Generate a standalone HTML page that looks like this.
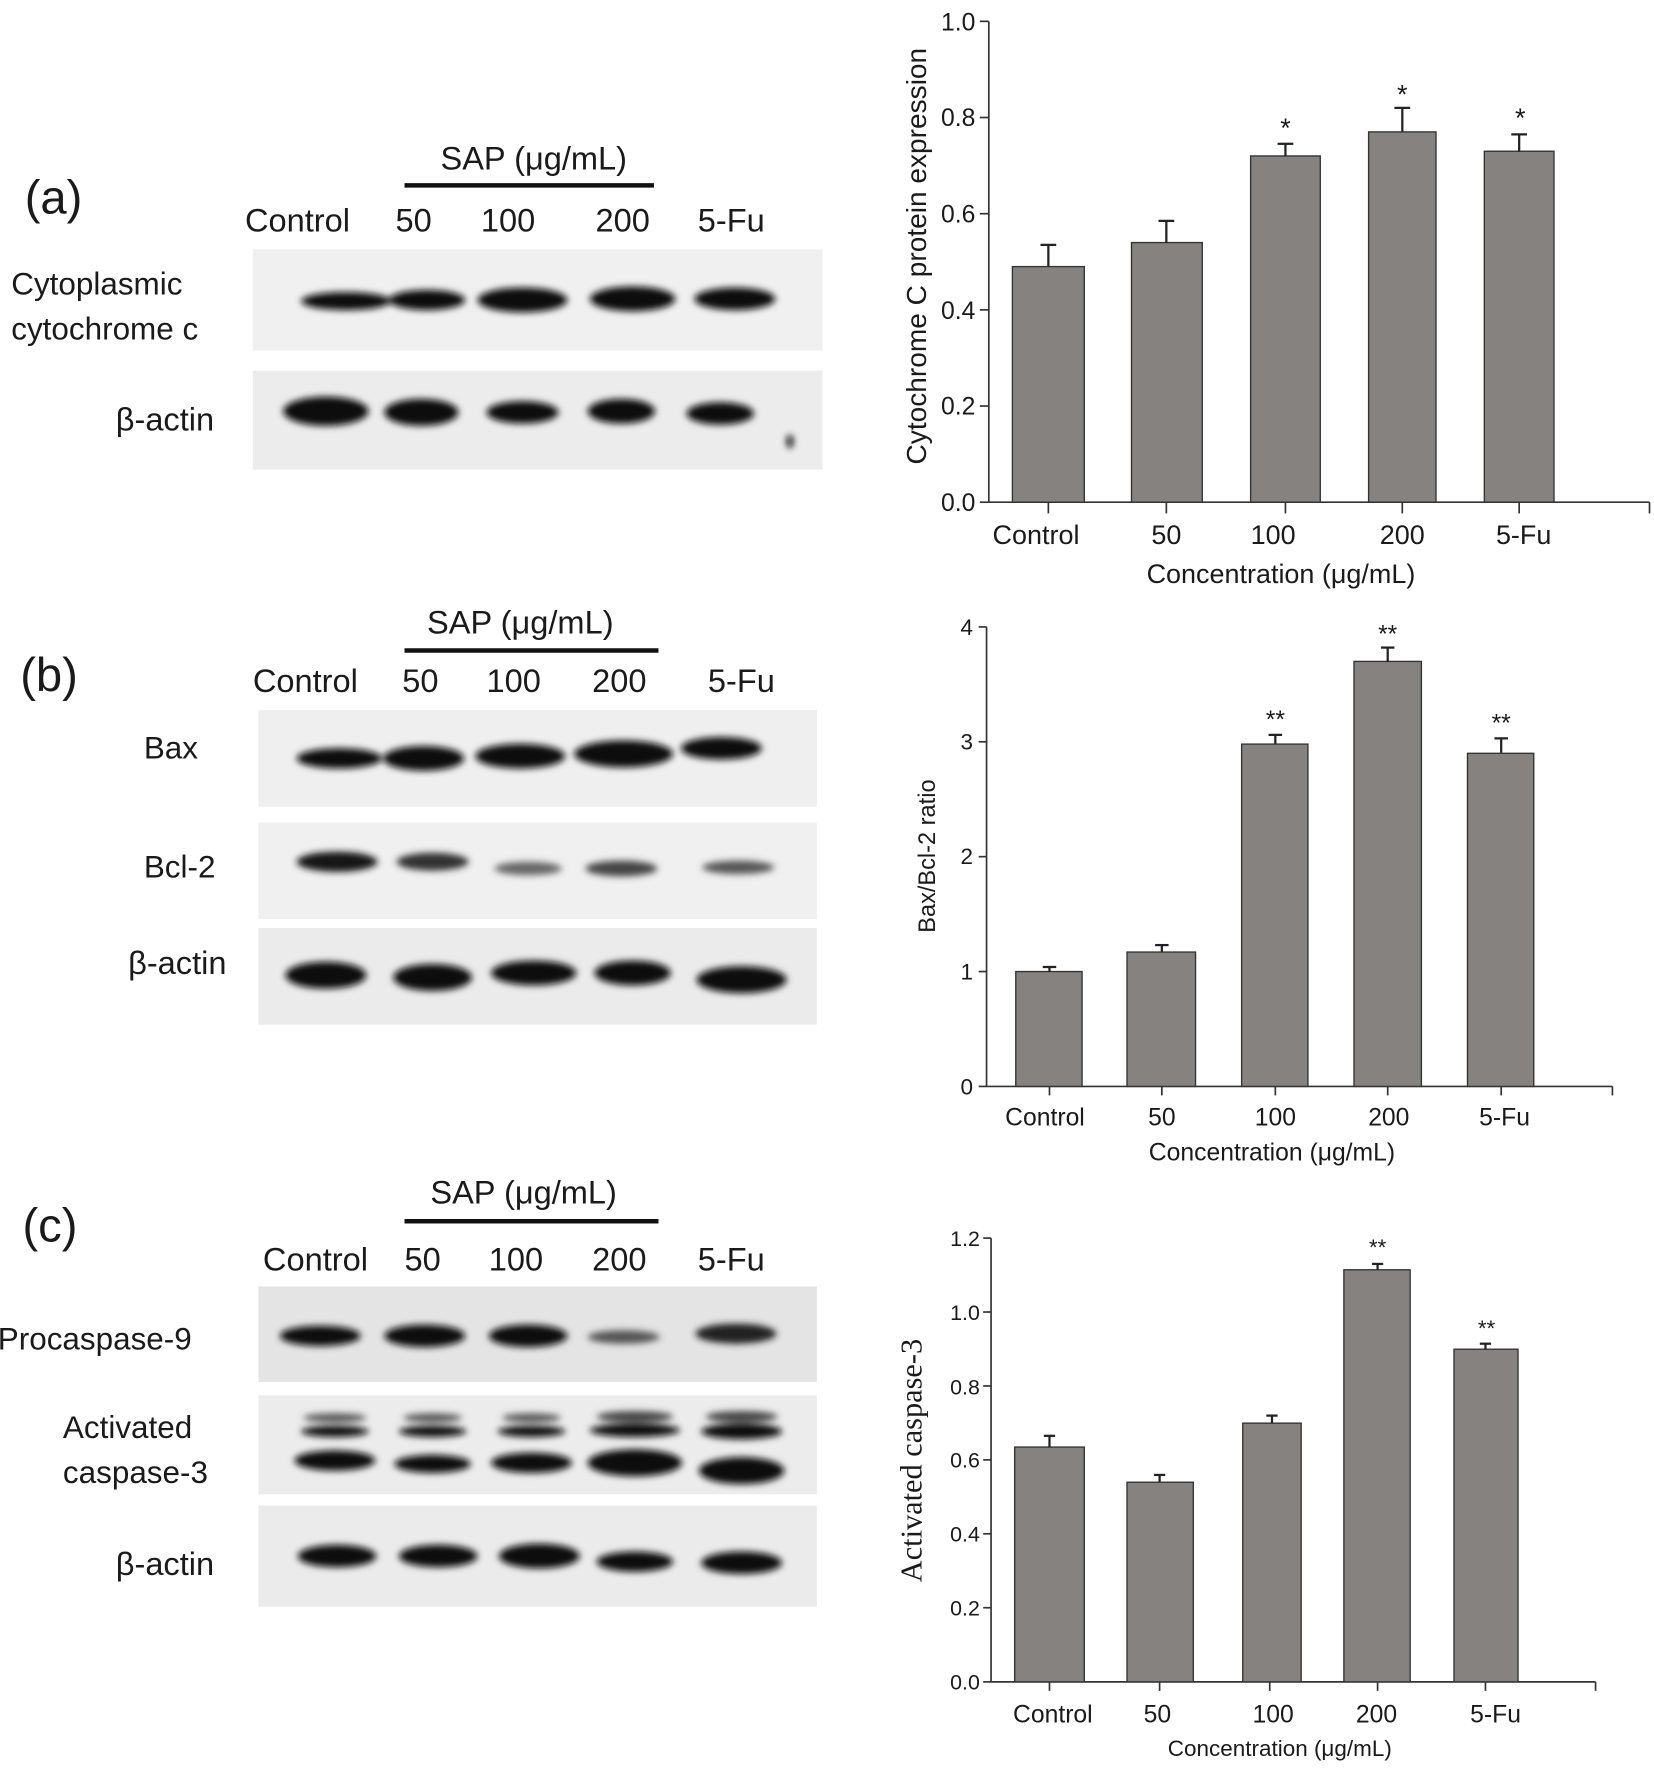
<!DOCTYPE html>
<html><head><meta charset="utf-8"><style>
html,body{margin:0;padding:0;background:#fff}
svg{display:block}
text{font-family:"Liberation Sans",sans-serif;fill:#1a1a1a}
</style></head><body>
<svg width="1654" height="1774" viewBox="0 0 1472 1579" preserveAspectRatio="none" xmlns="http://www.w3.org/2000/svg">
<defs>
<filter id="bl" x="-20%" y="-50%" width="140%" height="200%"><feGaussianBlur stdDeviation="3"/></filter>
<filter id="bl2" x="-20%" y="-50%" width="140%" height="200%"><feGaussianBlur stdDeviation="5"/></filter>
</defs>

<!-- ===== Panel (a) blots ===== -->
<text x="22" y="190" font-size="42">(a)</text>
<text x="392" y="151" font-size="29">SAP (μg/mL)</text>
<rect x="360" y="163" width="222" height="4" fill="#111"/>
<text x="218" y="206" font-size="29">Control</text>
<text x="352" y="206" font-size="29">50</text>
<text x="428" y="206" font-size="29">100</text>
<text x="530" y="206" font-size="29">200</text>
<text x="621" y="206" font-size="29">5-Fu</text>
<text x="10" y="262" font-size="28">Cytoplasmic</text>
<text x="10" y="302" font-size="28">cytochrome  c</text>
<text x="103" y="383" font-size="29">β-actin</text>
<rect x="225" y="222" width="507" height="90" fill="#f0f0f0"/>
<g filter="url(#bl)" fill="#111">
<ellipse cx="308" cy="268" rx="40" ry="8"/>
<ellipse cx="380" cy="267" rx="34" ry="9"/>
<ellipse cx="465" cy="267" rx="40" ry="11"/>
<ellipse cx="563" cy="266" rx="38" ry="11"/>
<ellipse cx="654" cy="266" rx="36" ry="10"/>
</g>
<rect x="225" y="330" width="507" height="88" fill="#ececec"/>
<g filter="url(#bl)" fill="#0a0a0a">
<ellipse cx="290" cy="366" rx="38" ry="13"/>
<ellipse cx="375" cy="367" rx="33" ry="12"/>
<ellipse cx="465" cy="367" rx="32" ry="10"/>
<ellipse cx="553" cy="366" rx="30" ry="11"/>
<ellipse cx="641" cy="368" rx="30" ry="10"/>
<ellipse cx="703" cy="393" rx="3" ry="6"/>
</g>

<!-- ===== Panel (b) blots ===== -->
<text x="18" y="615" font-size="42">(b)</text>
<text x="380" y="564" font-size="29">SAP (μg/mL)</text>
<rect x="360" y="577" width="226" height="4" fill="#111"/>
<text x="225" y="616" font-size="29">Control</text>
<text x="358" y="616" font-size="29">50</text>
<text x="433" y="616" font-size="29">100</text>
<text x="527" y="616" font-size="29">200</text>
<text x="630" y="616" font-size="29">5-Fu</text>
<text x="128" y="675" font-size="28">Bax</text>
<text x="128" y="781" font-size="28">Bcl-2</text>
<text x="114" y="867" font-size="29">β-actin</text>
<rect x="230" y="632" width="497" height="86" fill="#efefef"/>
<g filter="url(#bl)" fill="#111">
<ellipse cx="302" cy="675" rx="38" ry="9"/>
<ellipse cx="377" cy="675" rx="36" ry="11"/>
<ellipse cx="463" cy="673" rx="40" ry="11"/>
<ellipse cx="555" cy="671" rx="44" ry="12"/>
<ellipse cx="642" cy="666" rx="36" ry="10"/>
</g>
<rect x="230" y="732" width="497" height="86" fill="#f0f0f0"/>
<g filter="url(#bl)">
<ellipse cx="300" cy="767" rx="36" ry="9" fill="#151515"/>
<ellipse cx="385" cy="767" rx="32" ry="8" fill="#333"/>
<ellipse cx="470" cy="773" rx="30" ry="6" fill="#666"/>
<ellipse cx="553" cy="773" rx="32" ry="7" fill="#444"/>
<ellipse cx="657" cy="772" rx="32" ry="6" fill="#555"/>
</g>
<rect x="230" y="826" width="497" height="86" fill="#ebebeb"/>
<g filter="url(#bl)" fill="#0a0a0a">
<ellipse cx="290" cy="868" rx="36" ry="12"/>
<ellipse cx="385" cy="870" rx="35" ry="12"/>
<ellipse cx="475" cy="866" rx="38" ry="11"/>
<ellipse cx="563" cy="866" rx="34" ry="11"/>
<ellipse cx="660" cy="872" rx="40" ry="12"/>
</g>

<!-- ===== Panel (c) blots ===== -->
<text x="20" y="1105" font-size="42">(c)</text>
<text x="383" y="1071" font-size="29">SAP (μg/mL)</text>
<rect x="360" y="1085" width="226" height="4" fill="#111"/>
<text x="234" y="1131" font-size="29">Control</text>
<text x="360" y="1131" font-size="29">50</text>
<text x="435" y="1131" font-size="29">100</text>
<text x="527" y="1131" font-size="29">200</text>
<text x="621" y="1131" font-size="29">5-Fu</text>
<text x="-2" y="1201" font-size="28">Procaspase-9</text>
<text x="56" y="1280" font-size="28">Activated</text>
<text x="56" y="1320" font-size="28">caspase-3</text>
<text x="103" y="1402" font-size="29">β-actin</text>
<rect x="230" y="1145" width="497" height="85" fill="#e4e4e4"/>
<g filter="url(#bl)">
<ellipse cx="285" cy="1189" rx="36" ry="9" fill="#111"/>
<ellipse cx="378" cy="1189" rx="36" ry="10" fill="#111"/>
<ellipse cx="470" cy="1189" rx="35" ry="10" fill="#111"/>
<ellipse cx="555" cy="1190" rx="32" ry="6" fill="#555"/>
<ellipse cx="655" cy="1187" rx="36" ry="9" fill="#222"/>
</g>
<rect x="230" y="1242" width="497" height="88" fill="#ececec"/>
<g filter="url(#bl)" fill="#111">
<ellipse cx="298" cy="1262" rx="28" ry="4" fill="#555"/>
<ellipse cx="385" cy="1262" rx="26" ry="4" fill="#555"/>
<ellipse cx="473" cy="1262" rx="26" ry="4" fill="#555"/>
<ellipse cx="565" cy="1261" rx="34" ry="5" fill="#444"/>
<ellipse cx="660" cy="1261" rx="32" ry="5" fill="#444"/>
<ellipse cx="298" cy="1274" rx="30" ry="5"/>
<ellipse cx="385" cy="1274" rx="30" ry="5"/>
<ellipse cx="473" cy="1274" rx="30" ry="5"/>
<ellipse cx="565" cy="1273" rx="40" ry="6"/>
<ellipse cx="660" cy="1274" rx="36" ry="7"/>
<ellipse cx="298" cy="1300" rx="36" ry="9"/>
<ellipse cx="385" cy="1303" rx="34" ry="8"/>
<ellipse cx="473" cy="1302" rx="36" ry="9"/>
<ellipse cx="565" cy="1302" rx="42" ry="12"/>
<ellipse cx="660" cy="1309" rx="38" ry="12"/>
</g>
<rect x="230" y="1340" width="497" height="90" fill="#ebebeb"/>
<g filter="url(#bl)" fill="#0a0a0a">
<ellipse cx="300" cy="1385" rx="35" ry="10"/>
<ellipse cx="390" cy="1385" rx="35" ry="10"/>
<ellipse cx="480" cy="1385" rx="36" ry="11"/>
<ellipse cx="565" cy="1390" rx="34" ry="9"/>
<ellipse cx="660" cy="1391" rx="36" ry="10"/>
</g>

<!-- ===== Chart (a) ===== -->
<g stroke="#333" stroke-width="1.5">
<line x1="880" y1="19" x2="880" y2="447"/>
<line x1="880" y1="447" x2="1468" y2="447"/>
<line x1="1468" y1="447" x2="1468" y2="457"/>
<line x1="872" y1="19" x2="880" y2="19"/><line x1="872" y1="104.6" x2="880" y2="104.6"/>
<line x1="872" y1="190.2" x2="880" y2="190.2"/><line x1="872" y1="275.8" x2="880" y2="275.8"/>
<line x1="872" y1="361.4" x2="880" y2="361.4"/><line x1="872" y1="447" x2="880" y2="447"/>
<line x1="933" y1="447" x2="933" y2="457"/><line x1="1038" y1="447" x2="1038" y2="457"/>
<line x1="1144" y1="447" x2="1144" y2="457"/><line x1="1248" y1="447" x2="1248" y2="457"/>
<line x1="1352" y1="447" x2="1352" y2="457"/>
</g>
<g fill="#85827f" stroke="#333" stroke-width="1.2">
<rect x="901" y="237.3" width="64" height="209.7"/>
<rect x="1007" y="215.9" width="63" height="231.1"/>
<rect x="1113" y="138.8" width="62" height="308.2"/>
<rect x="1218" y="117.4" width="60" height="329.6"/>
<rect x="1321" y="134.6" width="62" height="312.4"/>
</g>
<g stroke="#222" stroke-width="2">
<line x1="933" y1="237" x2="933" y2="218"/><line x1="926" y1="218" x2="940" y2="218"/>
<line x1="1038" y1="216" x2="1038" y2="196.6"/><line x1="1031" y1="196.6" x2="1045" y2="196.6"/>
<line x1="1144" y1="139" x2="1144" y2="128"/><line x1="1137" y1="128" x2="1151" y2="128"/>
<line x1="1248" y1="117" x2="1248" y2="96"/><line x1="1241" y1="96" x2="1255" y2="96"/>
<line x1="1352" y1="135" x2="1352" y2="119.6"/><line x1="1345" y1="119.6" x2="1359" y2="119.6"/>
</g>
<g font-size="24" text-anchor="middle">
<text x="1144" y="122">*</text><text x="1248" y="92">*</text><text x="1353" y="113">*</text>
</g>
<g font-size="22" text-anchor="end">
<text x="868" y="27">1.0</text><text x="868" y="112">0.8</text><text x="868" y="198">0.6</text>
<text x="868" y="284">0.4</text><text x="868" y="369">0.2</text><text x="868" y="455">0.0</text>
</g>
<g font-size="24" text-anchor="middle">
<text x="922" y="484">Control</text><text x="1038" y="484">50</text><text x="1133" y="484">100</text>
<text x="1248" y="484">200</text><text x="1356" y="484">5-Fu</text>
<text x="1140" y="519">Concentration (μg/mL)</text>
</g>
<text transform="translate(824,228) rotate(-90)" font-size="25" text-anchor="middle">Cytochrome C protein expression</text>

<!-- ===== Chart (b) ===== -->
<g stroke="#333" stroke-width="1.5">
<line x1="878" y1="558" x2="878" y2="967"/>
<line x1="878" y1="967" x2="1435" y2="967"/>
<line x1="1435" y1="967" x2="1435" y2="975"/>
<line x1="871" y1="558" x2="878" y2="558"/><line x1="871" y1="660.25" x2="878" y2="660.25"/>
<line x1="871" y1="762.5" x2="878" y2="762.5"/><line x1="871" y1="864.75" x2="878" y2="864.75"/>
<line x1="871" y1="967" x2="878" y2="967"/>
<line x1="934" y1="967" x2="934" y2="975"/><line x1="1034" y1="967" x2="1034" y2="975"/>
<line x1="1135" y1="967" x2="1135" y2="975"/><line x1="1235" y1="967" x2="1235" y2="975"/>
<line x1="1336" y1="967" x2="1336" y2="975"/>
</g>
<g fill="#85827f" stroke="#333" stroke-width="1.2">
<rect x="904" y="864.75" width="59" height="102.25"/>
<rect x="1003" y="847.4" width="61" height="119.6"/>
<rect x="1105" y="662.3" width="59" height="304.7"/>
<rect x="1205" y="588.7" width="60" height="378.3"/>
<rect x="1306" y="670.5" width="59" height="296.5"/>
</g>
<g stroke="#222" stroke-width="2">
<line x1="934" y1="865" x2="934" y2="860.7"/><line x1="928" y1="860.7" x2="940" y2="860.7"/>
<line x1="1034" y1="847" x2="1034" y2="841.2"/><line x1="1028" y1="841.2" x2="1040" y2="841.2"/>
<line x1="1135" y1="662" x2="1135" y2="654.1"/><line x1="1129" y1="654.1" x2="1141" y2="654.1"/>
<line x1="1235" y1="589" x2="1235" y2="576.4"/><line x1="1229" y1="576.4" x2="1241" y2="576.4"/>
<line x1="1336" y1="670" x2="1336" y2="657.2"/><line x1="1330" y1="657.2" x2="1342" y2="657.2"/>
</g>
<g font-size="22" text-anchor="middle">
<text x="1135" y="648">**</text><text x="1235" y="572">**</text><text x="1336" y="651">**</text>
</g>
<g font-size="20" text-anchor="end">
<text x="866" y="565">4</text><text x="866" y="667">3</text><text x="866" y="769">2</text>
<text x="866" y="872">1</text><text x="866" y="974">0</text>
</g>
<g font-size="22" text-anchor="middle">
<text x="930" y="1002">Control</text><text x="1034" y="1002">50</text><text x="1135" y="1002">100</text>
<text x="1236" y="1002">200</text><text x="1339" y="1002">5-Fu</text>
<text x="1132" y="1033">Concentration (μg/mL)</text>
</g>
<text transform="translate(832,762) rotate(-90)" font-size="21" text-anchor="middle">Bax/Bcl-2 ratio</text>

<!-- ===== Chart (c) ===== -->
<g stroke="#333" stroke-width="1.5">
<line x1="882" y1="1102" x2="882" y2="1497"/>
<line x1="882" y1="1497" x2="1420" y2="1497"/>
<line x1="1420" y1="1497" x2="1420" y2="1505"/>
<line x1="875" y1="1102" x2="882" y2="1102"/><line x1="875" y1="1167.8" x2="882" y2="1167.8"/>
<line x1="875" y1="1233.6" x2="882" y2="1233.6"/><line x1="875" y1="1299.4" x2="882" y2="1299.4"/>
<line x1="875" y1="1365.2" x2="882" y2="1365.2"/><line x1="875" y1="1431" x2="882" y2="1431"/>
<line x1="875" y1="1497" x2="882" y2="1497"/>
<line x1="934" y1="1497" x2="934" y2="1505"/><line x1="1032" y1="1497" x2="1032" y2="1505"/>
<line x1="1130" y1="1497" x2="1130" y2="1505"/><line x1="1226" y1="1497" x2="1226" y2="1505"/>
<line x1="1322" y1="1497" x2="1322" y2="1505"/>
</g>
<g fill="#85827f" stroke="#333" stroke-width="1.2">
<rect x="903" y="1288" width="62" height="209"/>
<rect x="1003" y="1319.3" width="59" height="177.7"/>
<rect x="1106" y="1266.7" width="52" height="230.3"/>
<rect x="1196" y="1130.2" width="59" height="366.8"/>
<rect x="1294" y="1200.9" width="57" height="296.1"/>
</g>
<g stroke="#222" stroke-width="2">
<line x1="934" y1="1288" x2="934" y2="1278"/><line x1="929" y1="1278" x2="939" y2="1278"/>
<line x1="1032" y1="1319" x2="1032" y2="1312.8"/><line x1="1027" y1="1312.8" x2="1037" y2="1312.8"/>
<line x1="1132" y1="1267" x2="1132" y2="1260"/><line x1="1127" y1="1260" x2="1137" y2="1260"/>
<line x1="1226" y1="1130" x2="1226" y2="1125"/><line x1="1221" y1="1125" x2="1231" y2="1125"/>
<line x1="1322" y1="1201" x2="1322" y2="1196"/><line x1="1317" y1="1196" x2="1327" y2="1196"/>
</g>
<g font-size="20" text-anchor="middle">
<text x="1226" y="1117">**</text><text x="1323" y="1189">**</text>
</g>
<g font-size="19" text-anchor="end">
<text x="872" y="1109">1.2</text><text x="872" y="1175">1.0</text><text x="872" y="1241">0.8</text>
<text x="872" y="1306">0.6</text><text x="872" y="1372">0.4</text><text x="872" y="1438">0.2</text>
<text x="872" y="1504">0.0</text>
</g>
<g font-size="22" text-anchor="middle">
<text x="937" y="1533">Control</text><text x="1030" y="1533">50</text><text x="1133" y="1533">100</text>
<text x="1225" y="1533">200</text><text x="1331" y="1533">5-Fu</text>
</g>
<text x="1139" y="1563" font-size="20" text-anchor="middle">Concentration (μg/mL)</text>
<text transform="translate(820,1300) rotate(-90)" font-size="27" text-anchor="middle" style="font-family:'Liberation Serif',serif">Activated  caspase-3</text>
</svg>
</body></html>
